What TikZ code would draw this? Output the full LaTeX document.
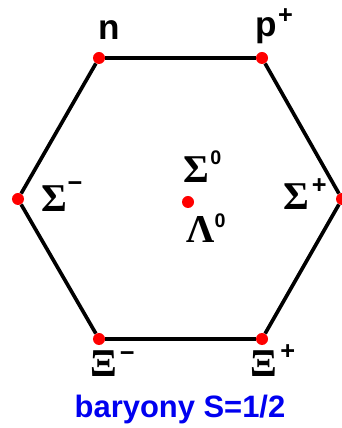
\documentclass[tikz,border=0pt]{standalone}
\usepackage{fontspec}
\setmainfont{Liberation Sans}
\newfontfamily\grk{Liberation Serif}
\usetikzlibrary{positioning}

% symbol with a raised charge or index
\newcommand{\hsym}[4]{{\grk\bfseries\fontsize{28}{28}\selectfont #1}\kern#4\raisebox{#3}{\fontsize{18}{18}\selectfont\bfseries #2}}
\newcommand{\idx}{\fontsize{14}{14}\selectfont 0}

\begin{document}
\begin{tikzpicture}[
    x=0.025cm, y=0.025cm,
    every node/.style={font=\bfseries},
    vtx/.style={circle, fill=red, draw=none, inner sep=0pt, minimum size=0.3cm},
    edge/.style={line width=2.6pt, black},
    lbl/.style={anchor=base west, inner sep=0pt},
]

\definecolor{titleblue}{HTML}{0000F0}

\useasboundingbox (0,0) rectangle (342,428);

% ---------------------------------------------------------------- vertices
\node[vtx] (n)   at (99,370)  {};
\node[vtx] (p)   at (262,370) {};
\node[vtx] (sm)  at (18,229)  {};
\node[vtx] (sp)  at (342,229) {};
\node[vtx] (xm)  at (99,89)   {};
\node[vtx] (xp)  at (262,89)  {};
\node[vtx] (s0)  at (188,226) {};

% ---------------------------------------------------------------- hexagon
\draw[edge] (n) -- (p);
\draw[edge] (p) -- (sp);
\draw[edge] (sp) -- (xp);
\draw[edge] (xp) -- (xm);
\draw[edge] (xm) -- (sm);
\draw[edge] (sm) -- (n);

% ---------------------------------------------------------------- labels
\node[lbl, font=\bfseries\fontsize{25}{25}\selectfont] (ln) at (98,388) {n};
\node[lbl, font=\bfseries\fontsize{25}{25}\selectfont] (lp) at (255,391)
    {p\kern1pt\raisebox{9.6pt}{\fontsize{18}{18}\selectfont +}};

\node[lbl] (lsm) at (41,216)  {\hsym{Σ}{−}{14.6pt}{0.5pt}};
\node[lbl] (ls0) at (183,245) {\hsym{Σ}{\idx}{12.8pt}{1pt}};
\node[lbl] (ll0) at (186,185) {\hsym{Λ}{\idx}{10.7pt}{0pt}};
\node[lbl] (lsp) at (283,218) {\hsym{Σ}{+}{11.8pt}{2pt}};
\node[lbl] (lxm) at (90,52)   {\hsym{Ξ}{−}{10.4pt}{2pt}};
\node[lbl] (lxp) at (250,52)  {\hsym{Ξ}{+}{11.8pt}{2.5pt}};

% ---------------------------------------------------------------- title
\node[anchor=base, inner sep=0pt, text=titleblue,
      font=\bfseries\fontsize{22}{22}\selectfont] (title) at (180,11)
    {baryony S=1/2};

\end{tikzpicture}
\end{document}
